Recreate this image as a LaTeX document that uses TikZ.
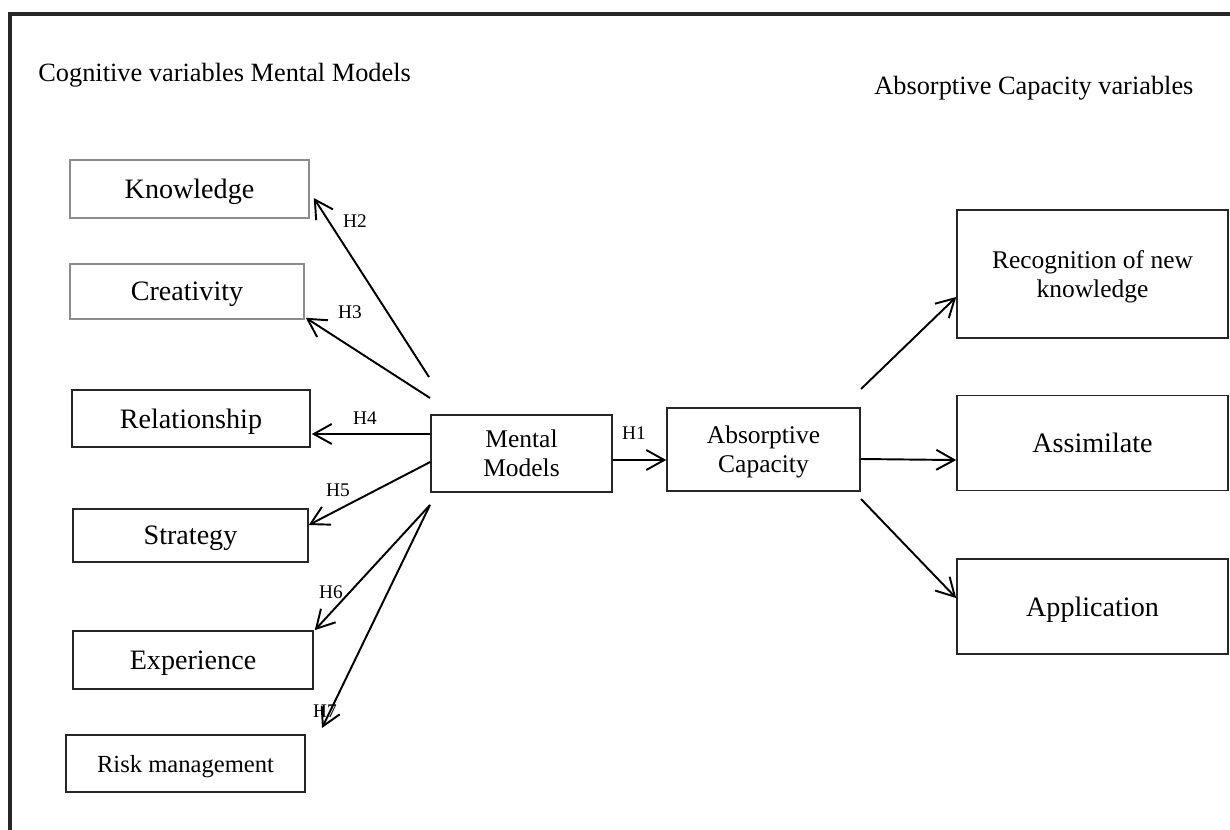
\documentclass[tikz,border=0pt]{standalone}
\usepackage{fontspec}
\setmainfont{Liberation Serif}
\usetikzlibrary{arrows.meta,positioning}

\tikzset{
    var/.style={draw=black!85, line width=0.9pt, inner sep=0pt, align=center, text depth=0pt,
        font=\fontsize{16}{19}\selectfont},
    greyvar/.style={var, draw=black!45},
    smalltext/.style={font=\fontsize{14.5}{16.5}\selectfont},
    hyp/.style={line width=1.1pt, -{Straight Barb[length=3.6mm,width=4mm]}},
    hlabel/.style={inner sep=0pt, font=\fontsize{11}{13}\selectfont},
    heading/.style={inner sep=0pt, anchor=base west, font=\fontsize{15}{18}\selectfont},
}

\begin{document}
\begin{tikzpicture}[x=0.02cm, y=-0.02cm]
    \useasboundingbox (0,0) rectangle (1230,830);
    \draw[line width=2.2pt, black!85] (10,830) -- (10,14) -- (1230,14);

    \node[heading] (cogtitle) at (38,82) {Cognitive variables Mental Models};
    \node[heading] (abstitle) at (874,95) {Absorptive Capacity variables};

    % cognitive variables
    \node[greyvar, minimum width=4.78cm, minimum height=1.16cm] (know) at (189.5,189) {Knowledge};
    \node[greyvar, minimum width=4.68cm, minimum height=1.10cm] (crea) at (187,291.5) {Creativity};
    \node[var, minimum width=4.76cm, minimum height=1.14cm] (rel) at (191,418.5) {Relationship};
    \node[var, minimum width=4.70cm, minimum height=1.06cm] (strat) at (190.5,535.5) {Strategy};
    \node[var, minimum width=4.80cm, minimum height=1.16cm] (exp) at (193,660) {Experience};
    \node[var, minimum width=4.78cm, minimum height=1.14cm,
        font=\fontsize{14}{16}\selectfont] (risk) at (185.5,763.5) {Risk management};

    % core
    \node[var, smalltext, minimum width=3.62cm, minimum height=1.54cm] (mm) at (521.5,453.5) {Mental\\Models};
    \node[var, smalltext, minimum width=3.86cm, minimum height=1.66cm] (ac) at (763.5,449.5) {Absorptive\\Capacity};

    % absorptive capacity variables
    \node[var, smalltext, minimum width=5.42cm, minimum height=2.56cm] (rec) at (1092.5,274) {Recognition of new\\knowledge};
    \node[var, minimum width=5.42cm, minimum height=1.90cm] (assim) [below=1.12cm of rec] {Assimilate};
    \node[var, minimum width=5.42cm, minimum height=1.90cm] (app) [below=1.34cm of assim] {Application};

    \coordinate (mmup) at (429,377);
    \coordinate (mmmid) at (430,398);
    \coordinate (mmlow) at (430,505);
    \coordinate (riskend) at (322,728);
    \coordinate (acup) at (861,389);
    \coordinate (aclow) at (861,499);

    \draw[hyp] (mmup) -- ([shift={(4,9)}]know.east);
    \draw[hyp] (mmmid) -- ([shift={(1,-2)}]crea.south east);
    \draw[hyp] ([shift={(0,-19.5)}]mm.west) -- ([shift={(1,15.5)}]rel.east);
    \draw[hyp] ([shift={(0,8.5)}]mm.west) -- ([shift={(0,-10.5)}]strat.east);
    \draw[hyp] (mmlow) -- ([shift={(1,0)}]exp.north east);
    \draw[hyp] (mmlow) -- (riskend);
    \draw[hyp] ([shift={(0,6.5)}]mm.east) -- ([shift={(0,10.5)}]ac.west);
    \draw[hyp] (acup) -- ([shift={(0,23)}]rec.west);
    \draw[hyp] ([shift={(0,9.5)}]ac.east) -- ([shift={(0,17)}]assim.west);
    \draw[hyp] (aclow) -- ([shift={(0,-8.5)}]app.west);

    \node[hlabel] (h1) at (634,433) {H1};
    \node[hlabel] (h2) at (355,221) {H2};
    \node[hlabel] (h3) at (350,312) {H3};
    \node[hlabel] (h4) at (365,418) {H4};
    \node[hlabel] (h5) at (338,490) {H5};
    \node[hlabel] (h6) at (331,592) {H6};
    \node[hlabel] (h7) at (325,711) {H7};
\end{tikzpicture}
\end{document}
